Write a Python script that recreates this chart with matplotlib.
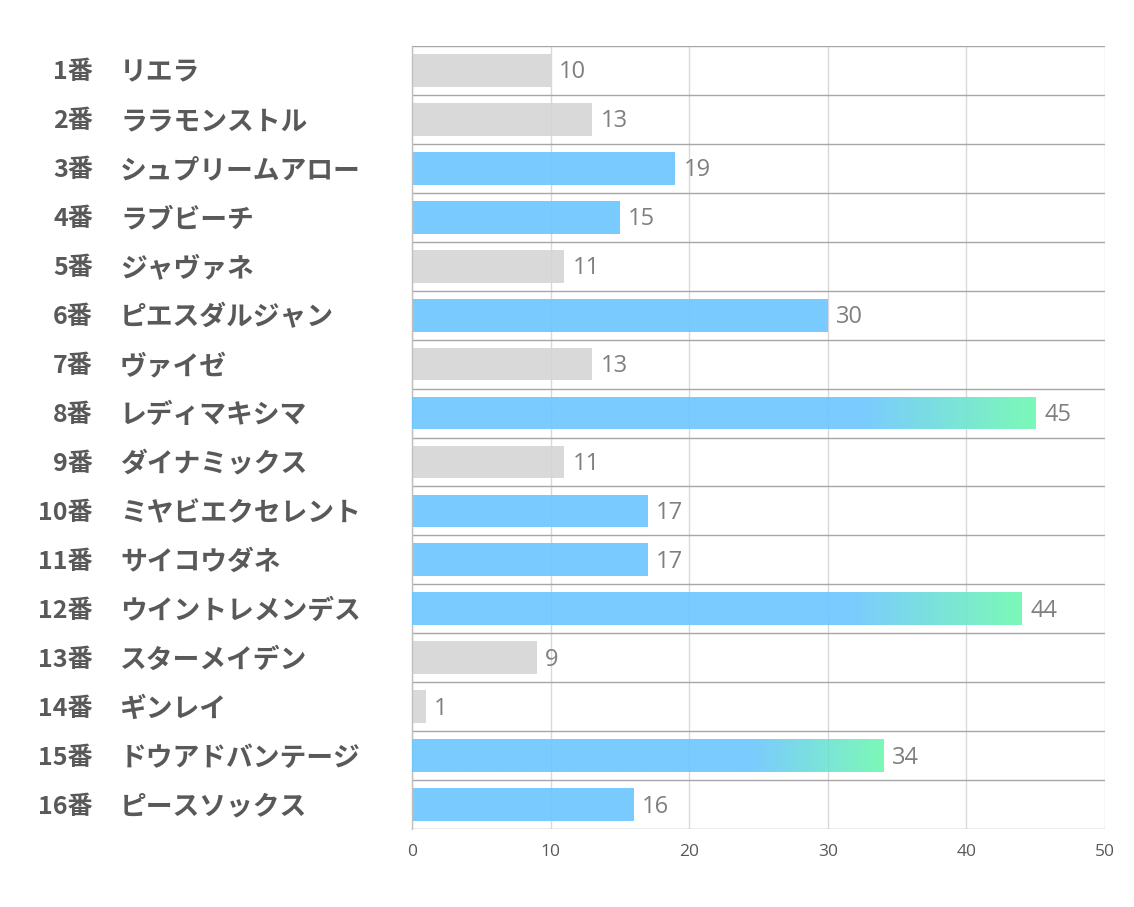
import matplotlib
matplotlib.use("Agg")
import matplotlib.pyplot as plt
import numpy as np
from matplotlib import transforms
from matplotlib.colors import LinearSegmentedColormap

numbers = ["1番", "2番", "3番", "4番", "5番", "6番", "7番", "8番",
           "9番", "10番", "11番", "12番", "13番", "14番", "15番", "16番"]
names = ["リエラ", "ララモンストル", "シュプリームアロー", "ラブビーチ", "ジャヴァネ",
         "ピエスダルジャン", "ヴァイゼ", "レディマキシマ", "ダイナミックス",
         "ミヤビエクセレント", "サイコウダネ", "ウイントレメンデス", "スターメイデン",
         "ギンレイ", "ドウアドバンテージ", "ピースソックス"]
values = [10, 13, 19, 15, 11, 30, 13, 45, 11, 17, 17, 44, 9, 1, 34, 16]
groups = ["gray", "gray", "blue", "blue", "gray", "blue", "gray", "grad",
          "gray", "blue", "blue", "grad", "gray", "gray", "grad", "blue"]
xticks = [0, 10, 20, 30, 40, 50]

# colours chosen so that at alpha 0.9 over white they give the target tints
ALPHA = 0.9
GRAY = "#D5D5D5"
BLUE = "#6BC6FF"
GREEN = "#6DF8B0"
cmap = LinearSegmentedColormap.from_list("bg", [BLUE, GREEN])

fig = plt.figure(figsize=(11.34, 9.07), dpi=100)
ax = fig.add_axes([412 / 1134, 1 - 829 / 907, (1105 - 412) / 1134, (829 - 46) / 907])

n = len(values)
ypos = np.arange(n)
bh = 0.67
colors = [GRAY if g == "gray" else BLUE for g in groups]
bars = ax.barh(ypos, values, height=bh, color=colors, alpha=ALPHA, zorder=2)

xs = np.linspace(0, 1, 512)
grad = np.clip((xs - 0.72) / 0.28, 0, 1).reshape(1, -1)
for b, v, g in zip(bars, values, groups):
    if g == "grad":
        b.set_visible(False)
        y0 = b.get_y()
        im = ax.imshow(grad, cmap=cmap, vmin=0, vmax=1, aspect="auto",
                       interpolation="bilinear", alpha=ALPHA,
                       extent=[0, v, y0 + b.get_height(), y0], zorder=3)
        im.set_clip_path(b)

val_trans = transforms.offset_copy(ax.transData, fig=fig, x=0, y=-2, units="dots")
for y, v in zip(ypos, values):
    ax.annotate(str(v), (v, y), xycoords=val_trans, xytext=(6, 0),
                textcoords="offset points",
                va="center", ha="left", fontsize=17, color="#7F7F7F",
                family=["Open Sans", "DejaVu Sans"])

ax.set_xlim(0, 50)
ax.set_ylim(n - 0.5, -0.5)
ax.set_xticks(xticks)
ax.set_xticklabels([str(t) for t in xticks], fontsize=12.5, color="#595959",
                   family=["Open Sans", "DejaVu Sans"])
ax.set_yticks([])
ax.set_yticks(np.arange(n + 1) - 0.5, minor=True)
ax.tick_params(axis="both", which="both", length=0)
ax.tick_params(axis="x", pad=11)
ax.grid(axis="x", which="major", color="#D9D9D9", linewidth=1, zorder=0)
ax.grid(axis="y", which="minor", color="#A6A6A6", linewidth=1, zorder=0)
ax.set_axisbelow(True)
for s in ["top", "right", "bottom"]:
    ax.spines[s].set_visible(False)
ax.spines["left"].set_color("#BFBFBF")
ax.spines["left"].set_linewidth(1)

trans = transforms.blended_transform_factory(fig.transFigure, ax.transData)
trans = transforms.offset_copy(trans, fig=fig, x=0, y=-2, units="dots")
jp = ["Noto Sans CJK JP", "DejaVu Sans"]
for y, num, name in zip(ypos, numbers, names):
    fig.text(93 / 1134, y, num, transform=trans, ha="right", va="center",
             fontsize=18, fontweight="bold", color="#595959", family=jp)
    fig.text(120 / 1134, y, name, transform=trans, ha="left", va="center",
             fontsize=19.3, fontweight="bold", color="#595959", family=jp)

fig.savefig("out.png", dpi=100, facecolor="white")
